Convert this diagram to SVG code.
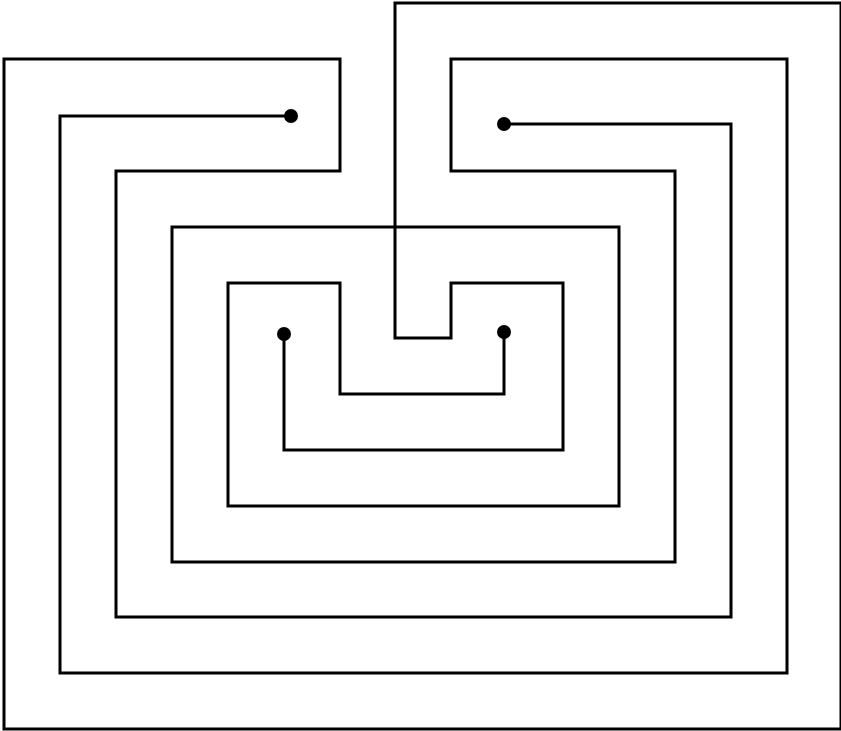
<svg xmlns="http://www.w3.org/2000/svg" width="841" height="731" viewBox="0 0 841 731">
<style>
.ln{fill:none;stroke:#000;stroke-width:3;stroke-linejoin:miter;stroke-linecap:square}
.dot{fill:#000}
</style>
<rect width="841" height="731" fill="#fff"/>
<g id="connectors">
<path class="ln" d="M504,124 H731 V617 H116 V171 H340 V59 H4 V729 H841 V3 H395 V338 H451 V283 H563 V450 H284 V334"/>
<path class="ln" d="M291,116 H60 V673 H787 V59 H451 V171 H675 V562 H172 V227 H619 V506 H228 V283 H340 V394 H504 V332"/>
</g>
<g id="dot1"><circle class="dot" cx="291" cy="116" r="7"/></g>
<g id="dot2"><circle class="dot" cx="504" cy="124" r="7"/></g>
<g id="dot3"><circle class="dot" cx="284" cy="334" r="7"/></g>
<g id="dot4"><circle class="dot" cx="504" cy="332" r="7"/></g>
</svg>
